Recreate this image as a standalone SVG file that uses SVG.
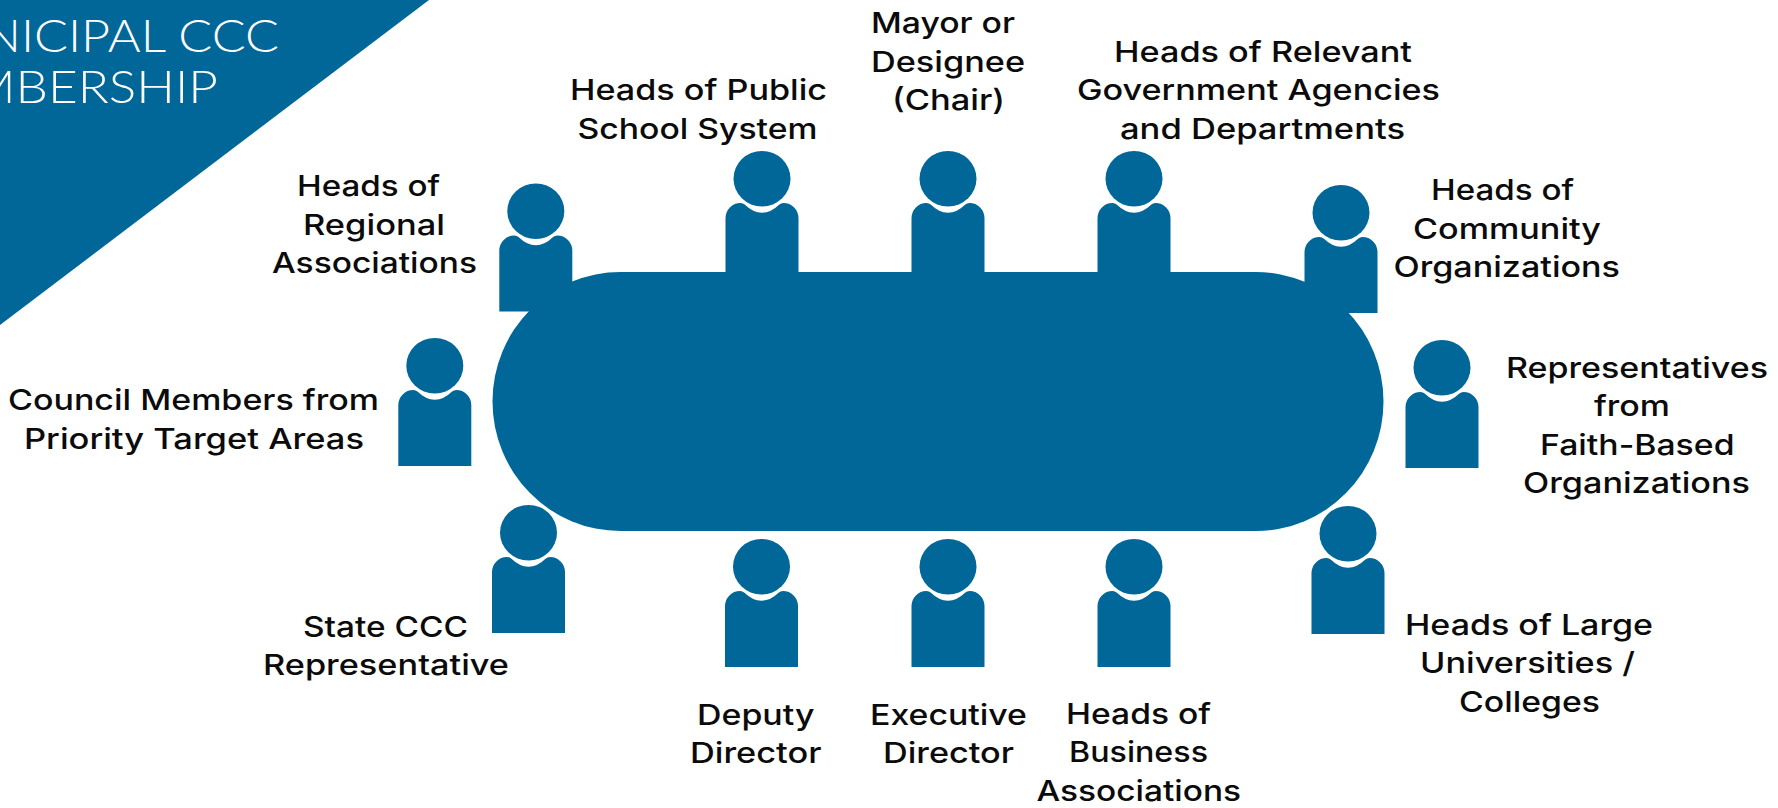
<svg xmlns="http://www.w3.org/2000/svg" width="1778" height="808" viewBox="0 0 1778 808">
<style>
.f{fill:#016798}
text{font-family:"Inter","Liberation Sans",sans-serif;font-weight:500;font-size:29px;fill:#0b0b0b;text-anchor:start}
.t{font-family:"Lato","Liberation Sans",sans-serif;font-weight:300;font-size:45px;fill:#fff}
</style>
<defs>
<g id="p">
<ellipse class="f" cx="0" cy="-24.3" rx="28.5" ry="27.8"/>
<path class="f" d="M-36.500 76V15A15 15 0 0 1-21.500 0Q-19 0-17 1.800Q-9 9.700 0 9.700T17 1.800Q19 0 21.500 0A15 15 0 0 1 36.500 15V76Z"/>
</g>
</defs>
<rect width="1778" height="808" fill="#fff"/>
<g id="banner">
<polygon class="f" points="0,0 429,0 0,325"/>
<text class="t" x="-17" y="52" textLength="296" lengthAdjust="spacingAndGlyphs">NICIPAL CCC</text>
<text class="t" x="-31" y="103" textLength="249" lengthAdjust="spacingAndGlyphs">MBERSHIP</text>
</g>
<g id="connectors"></g>
<g id="persons">
<use href="#p" id="n-regional" x="535.800" y="235.500"/>
<use href="#p" id="n-council" x="434.800" y="390"/>
<use href="#p" id="n-school" x="762" y="203"/>
<use href="#p" id="n-mayor" x="948" y="203"/>
<use href="#p" id="n-agencies" x="1134" y="203"/>
<use href="#p" id="n-community" x="1341" y="237"/>
<use href="#p" id="n-faith" x="1442" y="392"/>
<use href="#p" id="n-state" x="528.500" y="557"/>
<use href="#p" id="n-deputy" x="761.500" y="591"/>
<use href="#p" id="n-exec" x="948" y="591"/>
<use href="#p" id="n-business" x="1134" y="591"/>
<use href="#p" id="n-uni" x="1348" y="558"/>
</g>
<g id="table"><rect class="f" x="492.500" y="272" width="891" height="259" rx="128" ry="129.500"/></g>
<g id="labels" lengthAdjust="spacingAndGlyphs">
<text lengthAdjust="spacingAndGlyphs" x="297" y="196" textLength="143">Heads of</text>
<text lengthAdjust="spacingAndGlyphs" x="303" y="235" textLength="142">Regional</text>
<text lengthAdjust="spacingAndGlyphs" x="272" y="273" textLength="205">Associations</text>
<text lengthAdjust="spacingAndGlyphs" x="8" y="410" textLength="371">Council Members from</text>
<text lengthAdjust="spacingAndGlyphs" x="24" y="449" textLength="340">Priority Target Areas</text>
<text lengthAdjust="spacingAndGlyphs" x="570" y="100" textLength="257">Heads of Public</text>
<text lengthAdjust="spacingAndGlyphs" x="577.500" y="139" textLength="240">School System</text>
<text lengthAdjust="spacingAndGlyphs" x="871" y="33" textLength="144">Mayor or</text>
<text lengthAdjust="spacingAndGlyphs" x="871" y="72" textLength="154">Designee</text>
<text lengthAdjust="spacingAndGlyphs" x="892" y="110" textLength="113">(Chair)</text>
<text lengthAdjust="spacingAndGlyphs" x="1114" y="62" textLength="298">Heads of Relevant</text>
<text lengthAdjust="spacingAndGlyphs" x="1077" y="100" textLength="363">Government Agencies</text>
<text lengthAdjust="spacingAndGlyphs" x="1120" y="139" textLength="285">and Departments</text>
<text lengthAdjust="spacingAndGlyphs" x="1431" y="200" textLength="143">Heads of</text>
<text lengthAdjust="spacingAndGlyphs" x="1413" y="239" textLength="188">Community</text>
<text lengthAdjust="spacingAndGlyphs" x="1393.500" y="277" textLength="226.500">Organizations</text>
<text lengthAdjust="spacingAndGlyphs" x="1506" y="378" textLength="262">Representatives</text>
<text lengthAdjust="spacingAndGlyphs" x="1594" y="416" textLength="76">from</text>
<text lengthAdjust="spacingAndGlyphs" x="1540" y="455" textLength="194.500">Faith-Based</text>
<text lengthAdjust="spacingAndGlyphs" x="1523" y="493" textLength="227">Organizations</text>
<text lengthAdjust="spacingAndGlyphs" x="303" y="637" textLength="165">State CCC</text>
<text lengthAdjust="spacingAndGlyphs" x="263" y="675" textLength="246">Representative</text>
<text lengthAdjust="spacingAndGlyphs" x="697" y="725" textLength="117.500">Deputy</text>
<text lengthAdjust="spacingAndGlyphs" x="690" y="763" textLength="131.500">Director</text>
<text lengthAdjust="spacingAndGlyphs" x="870" y="725" textLength="157">Executive</text>
<text lengthAdjust="spacingAndGlyphs" x="883" y="763" textLength="131">Director</text>
<text lengthAdjust="spacingAndGlyphs" x="1066" y="724" textLength="145">Heads of</text>
<text lengthAdjust="spacingAndGlyphs" x="1069" y="762" textLength="139">Business</text>
<text lengthAdjust="spacingAndGlyphs" x="1036.500" y="801" textLength="204.500">Associations</text>
<text lengthAdjust="spacingAndGlyphs" x="1405" y="635" textLength="248">Heads of Large</text>
<text lengthAdjust="spacingAndGlyphs" x="1420" y="673" textLength="215">Universities /</text>
<text lengthAdjust="spacingAndGlyphs" x="1459" y="712" textLength="141">Colleges</text>
</g>
</svg>
